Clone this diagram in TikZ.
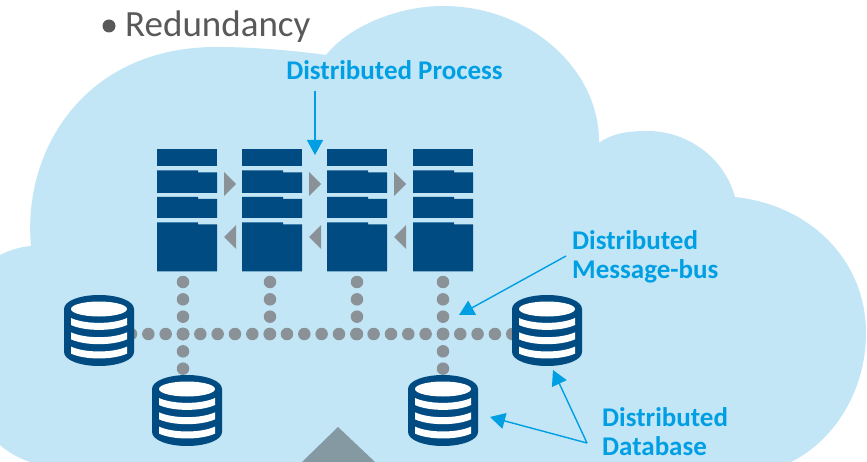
\documentclass[tikz,border=0pt]{standalone}
\usepackage{fontspec}
\setmainfont{Carlito}
\usetikzlibrary{arrows.meta}
\definecolor{cloudblue}{HTML}{C2E6F6}
\definecolor{navy}{HTML}{004B82}
\definecolor{dotgrey}{HTML}{8A9298}
\definecolor{wedge}{HTML}{8499A1}
\definecolor{labelblue}{HTML}{009FE3}
\definecolor{bodygrey}{HTML}{595959}
\tikzset{
  x=1pt,y=-1pt,
  lbl/.style={text=labelblue,font=\fontsize{27}{29.5}\selectfont\bfseries,inner sep=0pt,align=left},
  callout/.style={draw=labelblue,line width=1.4pt,-{Triangle[length=15pt,width=16pt,fill=labelblue]}},
  dots/.style={draw=dotgrey,line width=12.5pt,line cap=round,dash pattern=on 0pt off 17.33pt},
  hop/.style={fill=dotgrey},
  anchorbox/.style={inner sep=0pt,minimum width=#1,minimum height=1pt},
  dbbox/.style={inner sep=0pt,minimum width=70pt,minimum height=71pt},
  dbicon/.pic={
    \fill[navy] (-35,-21.5) .. controls (-35,-30) and (-18,-35.5) .. (0,-35.5)
      .. controls (18,-35.5) and (35,-30) .. (35,-21.5) -- (35,21.5)
      .. controls (35,30) and (18,35.5) .. (0,35.5)
      .. controls (-18,35.5) and (-35,30) .. (-35,21.5) -- cycle;
    \fill[white] (0,-21.5) ellipse [x radius=28,y radius=7.5];
    \foreach \o in {0,14.3,28.6}{
      \fill[white] (-28,-12.5+\o) .. controls (-14,-6+\o) and (14,-6+\o) .. (28,-12.5+\o)
        -- (28,-5.5+\o) .. controls (14,1+\o) and (-14,1+\o) .. (-28,-5.5+\o) -- cycle;
    }
  },
  plainbar/.pic={\fill[navy] (0,0) rectangle (60,17);},
  folder/.pic={\fill[navy] (0,0) -- (41,0) -- (41,2) -- (60,2) -- (60,#1) -- (0,#1) -- cycle;},
}
\begin{document}
\begin{tikzpicture}
\useasboundingbox (0,0) rectangle (867,462);
\fill[white] (0,0) rectangle (867,462);
\begin{scope}
\clip (0,0) rectangle (867,462);
\fill[cloudblue] (0,255) .. controls (10,250) and (20,247) .. (31,246)
  .. controls (22,150) and (85,47) .. (216,47)
  .. controls (250,47) and (290,50) .. (326,55)
  .. controls (350,25) and (400,6) .. (443,6)
  .. controls (530,6) and (600,70) .. (599,143)
  .. controls (612,133) and (630,131) .. (647,131)
  .. controls (690,131) and (725,160) .. (735,197)
  .. controls (810,205) and (866,260) .. (866,333)
  .. controls (866,390) and (835,440) .. (791,462)
  -- (30,462) .. controls (18,458) and (8,452) .. (0,445) -- cycle;
\fill[wedge] (338,427) -- (375,462) -- (302,462) -- cycle;
\end{scope}

% bullet and heading
\fill[bodygrey] (109,26) circle (6.5);
\node[anchor=base west,inner sep=0pt,text=bodygrey,font=\fontsize{37}{40}\selectfont] (title) at (125,37) {Redundancy};

% dotted bus
\coordinate (hubA) at (183,334);
\coordinate (hubB) at (270,334);
\coordinate (hubC) at (357,334);
\coordinate (hubD) at (443,334);

% databases (positions of the named boxes)
\node[dbbox] (dbL) at (99,330.5) {};
\node[dbbox] (dbR) at (547,330.5) {};
\node[dbbox] (dbA) at (187,410.5) {};
\node[dbbox] (dbD) at (443,410.5) {};

% servers
\foreach \n/\x in {A/157,B/242,C/327,D/413}{
  \pic at (\x,149) {plainbar};
  \pic at (\x,170.5) {folder=22.5};
  \pic at (\x,197) {folder=21};
  \pic at (\x,222.5) {folder=49};
  \node[anchorbox=60pt] (srv\n) at (\x+30,272) {};
}

\draw[dots] (hubA) -- (hubA |- srvA.south);
\draw[dots] (hubB) -- (hubB |- srvB.south);
\draw[dots] (hubC) -- (hubC |- srvC.south);
\draw[dots] (hubD) -- (hubD |- srvD.south);
\draw[dots] (hubA) -- (dbL.center |- hubA);
\draw[dots] (hubA) -- (dbR.center |- hubA);
\draw[dots] (hubA) -- (hubA |- dbA.north);
\draw[dots] (hubD) -- (dbD.north);

\pic at (dbL) {dbicon};
\pic at (dbR) {dbicon};
\pic at (dbA) {dbicon};
\pic at (dbD) {dbicon};

% grey flow arrows
\foreach \x in {224,309,394}{
  \fill[hop] (\x,172) -- (\x+12,184) -- (\x,196) -- cycle;
  \fill[hop] (\x+12,225) -- (\x,237) -- (\x+12,249) -- cycle;
}

% labels
\node[lbl,anchor=center] (lblP) at (394.5,70) {Distributed Process};
\node[lbl,anchor=west] (lblM) at (572,257) {Distributed\\Message-bus};
\node[lbl,anchor=west] (lblD) at (602,431.5) {Distributed\\Database};

\coordinate (pFrom) at (315,91);
\coordinate (pTo) at (315,155);
\coordinate (mFrom) at (566,256);
\coordinate (mTo) at (459,315);
\coordinate (dFrom) at (587,443);
\coordinate (dToR) at (553,370);
\coordinate (dToD) at (490,417);
\draw[callout] (pFrom) -- (pTo);
\draw[callout] (mFrom) -- (mTo);
\draw[callout] (dFrom) -- (dToR);
\draw[callout] (dFrom) -- (dToD);
\end{tikzpicture}
\end{document}
